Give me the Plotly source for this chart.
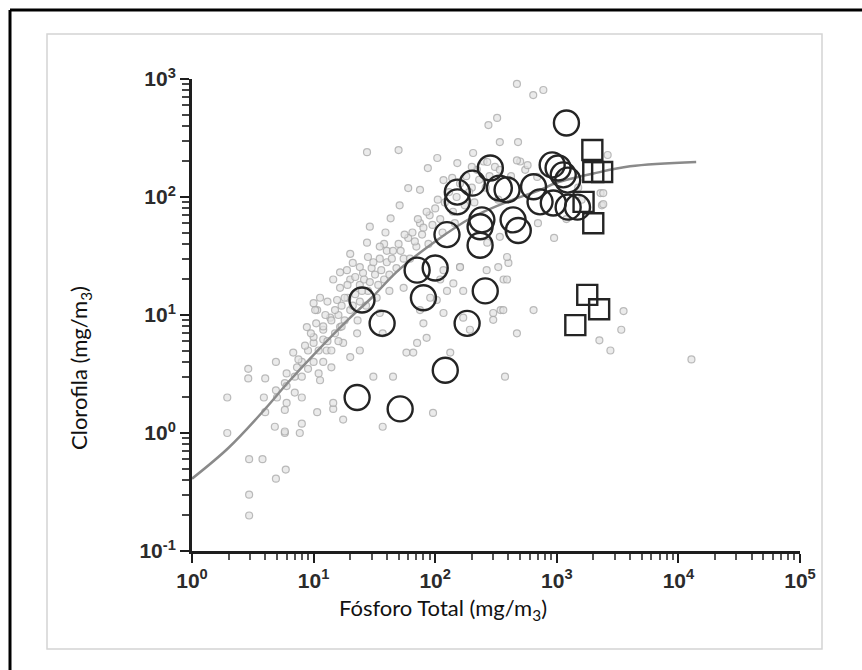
import plotly.graph_objects as go

# ---------------- data ----------------
# background cloud of small grey points (Total P, Chlorophyll)
bg_x = [1.95, 1.95, 2.95, 3.8, 4.9, 5.9, 2.95, 2.95, 3.9, 7.7, 5.8, 4.8, 10.7, 17.5, 14.5,
        2.9, 2.9, 4.0, 4.9, 4.9, 5.8, 5.8, 5.8, 6.8, 7.3, 8.0, 8.0, 8.8, 10, 10, 10.7, 11.3,
        12, 12, 12.8, 13.7, 14, 14.5, 15.6, 16.5, 16.5, 17.5, 18.8, 20, 20, 21, 22.8, 24,
        25.5, 28, 33, 35, 37, 40, 42, 45, 55, 58, 66, 71, 75, 80, 85, 103, 117, 125, 133,
        160, 170, 170, 193, 265, 300, 345, 365, 400, 470, 375, 96, 37, 31,
        4, 5, 6, 6, 7, 8, 8, 9, 9, 10, 10, 11, 12, 12, 13, 14, 15, 16, 17, 18, 19, 20, 22,
        24, 26, 28, 30, 32, 35, 38, 40, 45, 50, 55, 60, 65, 70, 75, 80, 90, 100, 110, 120,
        130, 150, 160, 180, 200, 220, 250, 280,
        6, 7, 7.5, 8.5, 9.5, 10.5, 11, 12.5, 13, 14, 15, 16, 17, 18, 19, 21, 22, 23, 24, 25,
        27, 29, 31, 34, 36, 38, 42, 44, 48, 52, 56, 62, 68, 72, 78, 85, 88, 95, 105, 115,
        140, 145, 175, 190, 210, 230, 260, 310, 330, 420, 500, 550,
        470, 640, 775, 274, 323, 340, 480, 27.5, 50, 87, 60, 75, 51, 43, 29, 39, 27.5, 35,
        20, 24, 16.5, 14.5, 11.3, 10.3, 117, 138, 205, 200, 152, 104, 268, 340, 470, 575,
        690, 2290, 2350, 2620, 268, 340, 390, 330, 390, 160, 141, 110, 91, 117, 363, 300, 644,
        3540, 3390, 2240, 2760, 12800, 2410, 2410,
        700, 950, 1200, 1500, 1600]
bg_y = [2.0, 1.0, 0.6, 0.6, 0.41, 0.49, 0.3, 0.2, 2.0, 1.0, 1.0, 1.13, 1.5, 1.3, 1.6,
        3.5, 2.9, 2.9, 4.0, 2.3, 1.03, 1.57, 2.65, 4.8, 3.6, 2.0, 1.2, 7.9, 5.8, 12.6, 11, 2.8,
        7.5, 6.2, 5.0, 9.5, 3.6, 1.8, 13.4, 17, 7.9, 5.8, 24, 20, 4.4, 27.6, 7.0, 5.0,
        22.7, 31, 14, 10.4, 7.0, 35, 16, 3.0, 17, 4.8, 4.8, 5.8, 11, 8.5, 6.4, 13.4, 24, 16, 4.8,
        25.5, 16, 9.5, 7.5, 24, 10.4, 11, 20, 27.6, 7.0, 3.0, 1.48, 1.13, 3.0,
        1.5, 2, 2.5, 1.8, 3, 3, 4, 5, 3.5, 4, 6.5, 5, 8, 4, 6, 9, 7, 10, 12, 9, 14, 11, 15,
        18, 20, 16, 25, 22, 30, 20, 28, 35, 40, 30, 45, 50, 38, 60, 55, 70, 80, 65, 90,
        110, 100, 130, 150, 120, 170, 200, 150,
        3.2, 2.2, 4.2, 5.5, 7, 8.5, 3.2, 10, 13, 5, 11, 6, 8, 14, 18, 12, 21, 9, 13, 16,
        12, 19, 28, 18, 24, 40, 22, 30, 25, 35, 48, 30, 42, 65, 48, 75, 40, 58, 95, 50,
        75, 60, 85, 110, 90, 140, 120, 180, 95, 150, 200, 170,
        908, 731, 807, 407, 468, 292, 292, 240, 250, 176, 119, 115, 85, 66, 56, 50, 41, 38,
        33, 25.5, 23, 20, 14, 11, 139, 145, 236, 180, 194, 214, 198, 170, 204, 186,
        148, 108, 85, 227, 41, 46, 31, 25.5, 20, 25.5, 18.5, 20, 14, 10.4, 11, 9.1, 11,
        10.8, 7.5, 6.1, 5.0, 4.2, 108, 87,
        60, 45, 65, 120, 95]

# fitted curve
fit_x = [1, 2, 4, 6, 10, 20, 30, 50, 100, 200, 400, 700, 1000, 2000, 4000, 14000]
fit_y = [0.41, 0.75, 1.6, 2.6, 4.6, 9.5, 14, 24, 42, 67, 92, 113, 132, 158, 182, 198]

# large open circles
circ_x = [1200, 284, 202, 152, 152, 337, 390, 644, 916, 1025, 1130, 1230, 728, 936, 1240,
          1480, 437, 482, 242, 234, 234, 125, 71, 100, 258, 80, 25, 36.6, 183, 121, 22.8, 51.5]
circ_y = [424, 176, 131, 110, 91, 119, 115, 122, 187, 176, 154, 139, 91, 89, 82,
          82, 64, 52, 64, 56, 39, 48, 24, 25, 16, 14, 13.4, 8.5, 8.5, 3.4, 2.0, 1.6]

# open squares
sq_x = [1960, 1995, 2360, 1660, 1995, 1780, 2230, 1420]
sq_y = [250, 163, 163, 91, 60, 14.8, 11.2, 8.2]

x_tickvals = [1, 10, 100, 1000, 10000, 100000]
x_ticktext = ["10<sup>0</sup>", "10<sup>1</sup>", "10<sup>2</sup>", "10<sup>3</sup>",
              "10<sup>4</sup>", "10<sup>5</sup>"]
y_tickvals = [0.1, 1, 10, 100, 1000]
y_ticktext = ["10<sup>-1</sup>", "10<sup>0</sup>", "10<sup>1</sup>", "10<sup>2</sup>",
              "10<sup>3</sup>"]

x_title = "Fósforo Total (mg/m<sub>3</sub>)"
y_title = "Clorofila (mg/m<sub>3</sub>)"

# ---------------- layout geometry ----------------
W, H = 862, 670
L, R, T, B = 192, 62, 79, 119
PW, PH = W - L - R, H - T - B


def px(xp):
    return (xp - L) / PW


def py(yp):
    return (H - B - yp) / PH


minor_x = [m * 10 ** k for k in range(0, 5) for m in range(2, 10)]
minor_y = [m * 10 ** k for k in range(-1, 3) for m in range(2, 10)]

fig = go.Figure()
fig.add_trace(go.Scatter(
    x=bg_x, y=bg_y, mode="markers",
    marker=dict(symbol="circle", size=7, color="rgba(226,226,226,0.7)",
                line=dict(color="rgba(165,165,165,0.75)", width=1.2)),
    hoverinfo="skip", showlegend=False))
fig.add_trace(go.Scatter(
    x=fit_x, y=fit_y, mode="lines", line=dict(color="#8a8a8a", width=2.5, shape="spline"),
    showlegend=False))
fig.add_trace(go.Scatter(
    x=circ_x, y=circ_y, mode="markers",
    marker=dict(symbol="circle-open", size=25, color="#242424", line=dict(width=2.4)),
    showlegend=False))
fig.add_trace(go.Scatter(
    x=sq_x, y=sq_y, mode="markers",
    marker=dict(symbol="square-open", size=20, color="#242424", line=dict(width=2.4)),
    showlegend=False))

tickfont = dict(family="Liberation Sans", size=21, color="#2b2b2b", weight="bold")
axis_common = dict(type="log", showgrid=False, zeroline=False, showline=True,
                   linecolor="#1e1e1e", linewidth=3, ticks="outside", ticklen=9,
                   tickwidth=2, tickcolor="#1e1e1e", tickfont=tickfont)

fig.update_xaxes(range=[0, 5], tickvals=x_tickvals, ticktext=x_ticktext,
                 minor=dict(tickvals=minor_x, ticks="outside", ticklen=6, tickwidth=1.5,
                            tickcolor="#555"),
                 **axis_common)
fig.update_yaxes(range=[-1, 3], tickvals=y_tickvals, ticktext=y_ticktext,
                 minor=dict(tickvals=minor_y, ticks="outside", ticklen=7, tickwidth=1.5,
                            tickcolor="#444"),
                 **axis_common)

shapes = [
    dict(type="rect", xref="paper", yref="paper", x0=px(47), x1=px(822), y0=py(649), y1=py(34),
         line=dict(color="#d4d4d4", width=1.5), layer="below"),
    dict(type="line", xref="paper", yref="paper", x0=px(10), x1=px(870), y0=py(10), y1=py(10),
         line=dict(color="#000", width=3)),
    dict(type="line", xref="paper", yref="paper", x0=px(10), x1=px(10), y0=py(10), y1=py(680),
         line=dict(color="#000", width=3)),
]

annotations = [
    dict(text=x_title, xref="paper", yref="paper", x=px(443), y=py(609), showarrow=False,
         xanchor="center", yanchor="middle", font=dict(family="Lato", size=22, color="#111")),
    dict(text=y_title, xref="paper", yref="paper", x=px(80), y=py(368), showarrow=False,
         textangle=-90, xanchor="center", yanchor="middle",
         font=dict(family="Lato", size=22, color="#111")),
]

fig.update_layout(width=W, height=H, margin=dict(l=L, r=R, t=T, b=B),
                  paper_bgcolor="white", plot_bgcolor="white",
                  shapes=shapes, annotations=annotations, showlegend=False)

fig.write_html("out.html")
